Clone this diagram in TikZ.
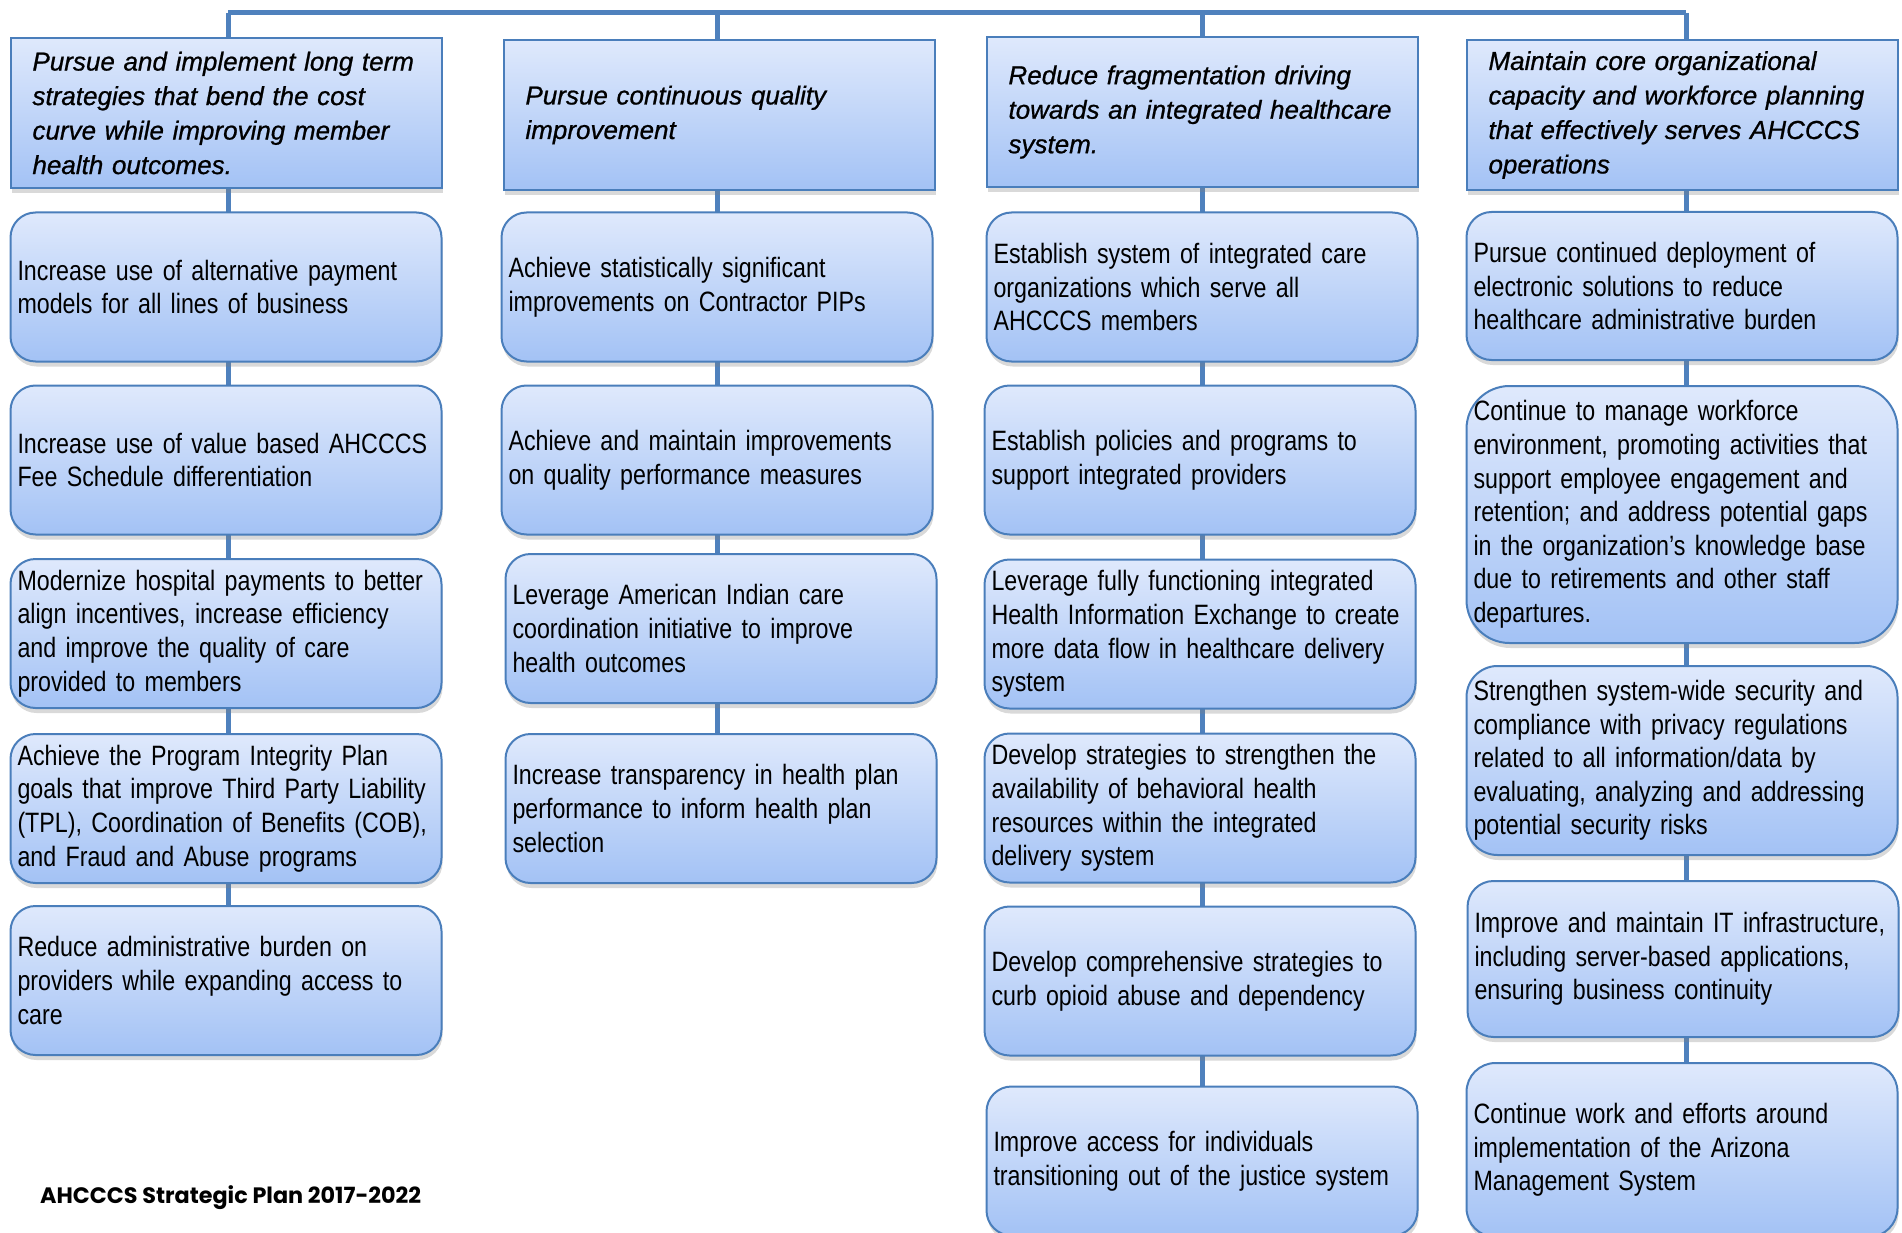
\documentclass[tikz,border=0pt]{standalone}
\usepackage{fontspec}
\setmainfont{Liberation Sans}
\newfontfamily\narrowfont{Liberation Sans}[FakeStretch=0.83, WordSpace=0.8]
\newfontfamily\goalfont{Liberation Sans Italic}[FakeBold=0.8]
\newfontfamily\footfont{Poppins}
\usetikzlibrary{shadows,backgrounds}
\definecolor{boxtop}{RGB}{223,233,252}
\definecolor{boxbot}{RGB}{163,194,245}
\definecolor{boxline}{RGB}{74,126,187}
\definecolor{linkblue}{RGB}{79,129,189}
\hyphenpenalty=10000

\begin{document}
\begin{tikzpicture}[x=1pt, y=1pt,
    goal/.style={
        rectangle,
        draw=boxline,
        line width=2pt,
        top color=boxtop,
        bottom color=boxbot,
        drop shadow={shadow xshift=1pt, shadow yshift=-5pt, opacity=0.3},
        text width=387pt,
        inner xsep=22pt,
        minimum height=150pt,
        align=left,
        font=\goalfont\fontsize{26}{34.5}\selectfont
    },
    task/.style={
        rectangle,
        rounded corners=25pt,
        draw=boxline,
        line width=2pt,
        top color=boxtop,
        bottom color=boxbot,
        drop shadow={shadow xshift=1pt, shadow yshift=-5pt, opacity=0.3},
        text width=417pt,
        inner xsep=7pt,
        minimum height=149pt,
        align=left,
        font=\narrowfont\fontsize{28}{33.6}\selectfont
    },
    link/.style={linkblue, line width=5pt}
]
    \useasboundingbox (0,0) rectangle (1902,-1233);
    \clip (0,0) rectangle (1902,-1233);

    %cost
    \node (cost) [goal, shift={(226,-113)}]
    {
        Pursue and implement long term\\ strategies that bend the cost\\ curve while improving member\\ health outcomes.
    };
    \node (cost_apm) [task, shift={(226,-287)}]
    {
        Increase use of alternative payment\\ models for all lines of business
    };
    \node (cost_fee) [task, shift={(226,-460)}]
    {
        Increase use of value based AHCCCS\\ Fee Schedule differentiation
    };
    \node (cost_hospital) [task, shift={(226,-633.5)}]
    {
        Modernize hospital payments to better\\ align incentives, increase efficiency\\ and improve the quality of care\\ provided to members
    };
    \node (cost_integrity) [task, shift={(226,-808.5)}]
    {
        Achieve the Program Integrity Plan\\ goals that improve Third Party Liability\\ (TPL), Coordination of Benefits (COB),\\ and Fraud and Abuse programs
    };
    \node (cost_burden) [task, shift={(226,-980.5)}]
    {
        Reduce administrative burden on\\ providers while expanding access to\\ care
    };

    %quality
    \node (quality) [goal, shift={(719,-115)}]
    {
        Pursue continuous quality\\ improvement
    };
    \node (quality_pips) [task, shift={(717,-287)}]
    {
        Achieve statistically significant\\ improvements on Contractor PIPs
    };
    \node (quality_measures) [task, shift={(717,-460)}]
    {
        Achieve and maintain improvements\\ on quality performance measures
    };
    \node (quality_indian) [task, shift={(721,-628.5)}]
    {
        Leverage American Indian care\\ coordination initiative to improve\\ health outcomes
    };
    \node (quality_transparency) [task, shift={(721,-808.5)}]
    {
        Increase transparency in health plan\\ performance to inform health plan\\ selection
    };

    %integration
    \node (integration) [goal, shift={(1202,-112)}]
    {
        Reduce fragmentation driving\\ towards an integrated healthcare\\ system.
    };
    \node (integration_orgs) [task, shift={(1202,-287)}]
    {
        Establish system of integrated care\\ organizations which serve all\\ AHCCCS members
    };
    \node (integration_policies) [task, shift={(1200,-460)}]
    {
        Establish policies and programs to\\ support integrated providers
    };
    \node (integration_hie) [task, shift={(1200,-634)}]
    {
        Leverage fully functioning integrated\\ Health Information Exchange to create\\ more data flow in healthcare delivery\\ system
    };
    \node (integration_behavioral) [task, shift={(1200,-808)}]
    {
        Develop strategies to strengthen the\\ availability of behavioral health\\ resources within the integrated\\ delivery system
    };
    \node (integration_opioid) [task, shift={(1200,-981)}]
    {
        Develop comprehensive strategies to\\ curb opioid abuse and dependency
    };
    \node (integration_justice) [task, shift={(1202,-1161)}]
    {
        Improve access for individuals\\ transitioning out of the justice system
    };

    %capacity
    \node (capacity) [goal, shift={(1682,-115)}]
    {
        Maintain core organizational\\ capacity and workforce planning\\ that effectively serves AHCCCS\\ operations
    };
    \node (capacity_electronic) [task, shift={(1682,-286)}, minimum height=148pt]
    {
        Pursue continued deployment of\\ electronic solutions to reduce\\ healthcare administrative burden
    };
    \node (capacity_workforce) [task, shift={(1682,-514.5)}, minimum height=257pt, rounded corners=43pt]
    {
        Continue to manage workforce\\ environment, promoting activities that\\ support employee engagement and\\ retention; and address potential gaps\\ in the organization’s knowledge base\\ due to retirements and other staff\\ departures.
    };
    \node (capacity_security) [task, shift={(1682,-760.5)}, minimum height=189pt, rounded corners=31pt]
    {
        Strengthen system-wide security and\\ compliance with privacy regulations\\ related to all information/data by\\ evaluating, analyzing and addressing\\ potential security risks
    };
    \node (capacity_it) [task, shift={(1683,-959)}, minimum height=156pt, rounded corners=26pt]
    {
        Improve and maintain IT infrastructure,\\ including server-based applications,\\ ensuring business continuity
    };
    \node (capacity_ams) [task, shift={(1682,-1150)}, minimum height=174pt, rounded corners=29pt]
    {
        Continue work and efforts around\\ implementation of the Arizona\\ Management System
    };

    %footer
    \node (plan_title) [anchor=west, inner sep=0pt, font=\footfont\bfseries\fontsize{22.3}{26}\selectfont, shift={(40,-1198)}]
    {
        AHCCCS Strategic Plan 2017-2022
    };

    %links
    \coordinate (bar_cost) at (228,-13);
    \coordinate (bar_quality) at (717,-13);
    \coordinate (bar_integration) at (1202,-13);
    \coordinate (bar_capacity) at (1686,-13);

    \begin{scope}[on background layer]
        \draw[link] (bar_cost) to (bar_capacity);
        \draw[link] (bar_cost) to (bar_cost |- cost_burden.north);
        \draw[link] (bar_quality) to (bar_quality |- quality_transparency.north);
        \draw[link] (bar_integration) to (bar_integration |- integration_justice.north);
        \draw[link] (bar_capacity) to (bar_capacity |- capacity_ams.north);
    \end{scope}

\end{tikzpicture}
\end{document}
